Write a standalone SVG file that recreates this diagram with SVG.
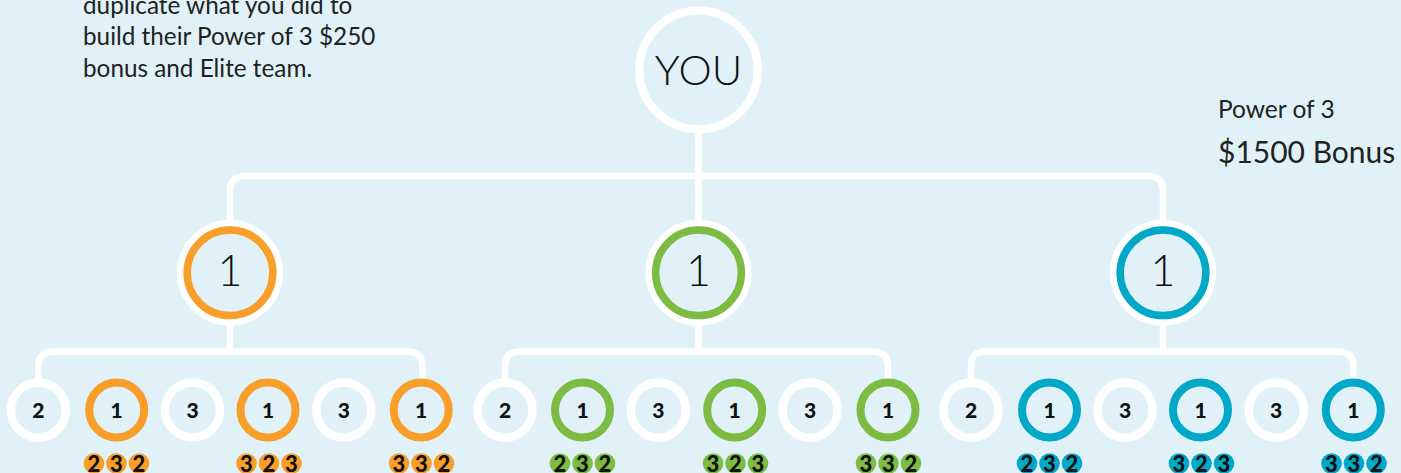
<svg xmlns="http://www.w3.org/2000/svg" width="1401" height="473" viewBox="0 0 1401 473">
<style>
.bg{fill:#e0f2f7}
.conn{fill:none;stroke:#ffffff;stroke-width:6.5}
.big{font-family:Lato,"Liberation Sans",sans-serif;font-weight:300;fill:#111;text-anchor:middle}
.note{font-family:Lato,"Liberation Sans",sans-serif;font-weight:400;fill:#222}
.num{font-family:Lato,"Liberation Sans",sans-serif;font-weight:900;font-size:21px;fill:#111;text-anchor:middle}
.bd{font-family:Lato,"Liberation Sans",sans-serif;font-weight:900;font-size:22px;fill:#111;text-anchor:middle}
.o{stroke:#f89e29}.g{stroke:#7dbb42}.b{stroke:#02a8c8}
.fo{fill:#f89e29}.fg{fill:#7dbb42}.fb{fill:#02a8c8}
.l2w{fill:#e0f2f7;stroke:#fff;stroke-width:8.5}
.l2c{fill:#e0f2f7;stroke-width:8}
</style>
<rect class="bg" x="0" y="0" width="1401" height="473"/>

<g id="note">
<text class="note" font-size="24.3" x="83" y="13.5">duplicate what you did to</text>
<text class="note" font-size="24.3" x="83" y="45">build their Power of 3 $250</text>
<text class="note" font-size="24.3" x="83" y="76.5">bonus and Elite team.</text>
</g>
<g id="bonus">
<text class="note" font-size="24.5" x="1218" y="118">Power of 3</text>
<text class="note" font-size="30" x="1218" y="163">$1500 Bonus</text>
</g>

<g id="connectors">
<path class="conn" d="M698.5,133 V220"/>
<path class="conn" d="M230,220 V191 Q230,176 245,176 H1148 Q1163,176 1163,191 V220"/>
<path class="conn" d="M230,325 V351.5"/>
<path class="conn" d="M698.5,325 V351.5"/>
<path class="conn" d="M1163,325 V351.5"/>
<path class="conn" d="M38.3,379 V366.5 Q38.3,351.5 53.3,351.5 H407.5 Q422.5,351.5 422.5,366.5 V379"/>
<path class="conn" d="M505,379 V366.5 Q505,351.5 520,351.5 H873 Q888,351.5 888,366.5 V379"/>
<path class="conn" d="M971,379 V366.5 Q971,351.5 986,351.5 H1338.3 Q1353.3,351.5 1353.3,366.5 V379"/>
</g>

<g id="you">
<circle cx="698.5" cy="70" r="59.3" fill="#e0f2f7" stroke="#fff" stroke-width="8.3"/>
<text class="big" font-size="42" x="698.5" y="85">YOU</text>
</g>

<g id="l1-orange">
<circle cx="230" cy="272.8" r="49.8" fill="none" stroke="#fff" stroke-width="6.5"/>
<circle cx="230" cy="272.8" r="42.8" fill="#e0f2f7" class="o" stroke-width="7.5"/>
<text class="big" font-size="43" x="230" y="286">1</text>
</g>
<g id="l1-green">
<circle cx="698.5" cy="272.8" r="49.8" fill="none" stroke="#fff" stroke-width="6.5"/>
<circle cx="698.5" cy="272.8" r="42.8" fill="#e0f2f7" class="g" stroke-width="7.5"/>
<text class="big" font-size="43" x="698.5" y="286">1</text>
</g>
<g id="l1-blue">
<circle cx="1163" cy="272.8" r="49.8" fill="none" stroke="#fff" stroke-width="6.5"/>
<circle cx="1163" cy="272.8" r="42.8" fill="#e0f2f7" class="b" stroke-width="7.5"/>
<text class="big" font-size="43" x="1163" y="286">1</text>
</g>

<!-- Group 1 (orange) -->
<g id="o-2"><circle class="l2w" cx="38.3" cy="410" r="27.5"/><text class="num" x="38.3" y="417.5">2</text></g>
<g id="o-1a"><circle class="l2c o" cx="116.7" cy="410" r="27.5"/><text class="num" x="116.7" y="417.5">1</text>
<circle class="fo" cx="94" cy="463.5" r="10.3"/><circle class="fo" cx="116.5" cy="463.5" r="10.3"/><circle class="fo" cx="139" cy="463.5" r="10.3"/>
<text class="bd" x="94" y="472">2</text><text class="bd" x="116.5" y="472">3</text><text class="bd" x="139" y="472">2</text></g>
<g id="o-3a"><circle class="l2w" cx="192.5" cy="410" r="27.5"/><text class="num" x="192.5" y="417.5">3</text></g>
<g id="o-1b"><circle class="l2c o" cx="268" cy="410" r="27.5"/><text class="num" x="268" y="417.5">1</text>
<circle class="fo" cx="246.5" cy="463.5" r="10.3"/><circle class="fo" cx="269" cy="463.5" r="10.3"/><circle class="fo" cx="291.5" cy="463.5" r="10.3"/>
<text class="bd" x="246.5" y="472">3</text><text class="bd" x="269" y="472">2</text><text class="bd" x="291.5" y="472">3</text></g>
<g id="o-3b"><circle class="l2w" cx="343.8" cy="410" r="27.5"/><text class="num" x="343.8" y="417.5">3</text></g>
<g id="o-1c"><circle class="l2c o" cx="421.2" cy="410" r="27.5"/><text class="num" x="421.2" y="417.5">1</text>
<circle class="fo" cx="399" cy="463.5" r="10.3"/><circle class="fo" cx="421.5" cy="463.5" r="10.3"/><circle class="fo" cx="444" cy="463.5" r="10.3"/>
<text class="bd" x="399" y="472">3</text><text class="bd" x="421.5" y="472">3</text><text class="bd" x="444" y="472">2</text></g>

<!-- Group 2 (green) -->
<g id="g-2"><circle class="l2w" cx="505" cy="410" r="27.5"/><text class="num" x="505" y="417.5">2</text></g>
<g id="g-1a"><circle class="l2c g" cx="582.5" cy="410" r="27.5"/><text class="num" x="582.5" y="417.5">1</text>
<circle class="fg" cx="560" cy="463.5" r="10.3"/><circle class="fg" cx="582.5" cy="463.5" r="10.3"/><circle class="fg" cx="605" cy="463.5" r="10.3"/>
<text class="bd" x="560" y="472">2</text><text class="bd" x="582.5" y="472">3</text><text class="bd" x="605" y="472">2</text></g>
<g id="g-3a"><circle class="l2w" cx="658.3" cy="410" r="27.5"/><text class="num" x="658.3" y="417.5">3</text></g>
<g id="g-1b"><circle class="l2c g" cx="734.7" cy="410" r="27.5"/><text class="num" x="734.7" y="417.5">1</text>
<circle class="fg" cx="713" cy="463.5" r="10.3"/><circle class="fg" cx="735.5" cy="463.5" r="10.3"/><circle class="fg" cx="758" cy="463.5" r="10.3"/>
<text class="bd" x="713" y="472">3</text><text class="bd" x="735.5" y="472">2</text><text class="bd" x="758" y="472">3</text></g>
<g id="g-3b"><circle class="l2w" cx="810" cy="410" r="27.5"/><text class="num" x="810" y="417.5">3</text></g>
<g id="g-1c"><circle class="l2c g" cx="888" cy="410" r="27.5"/><text class="num" x="888" y="417.5">1</text>
<circle class="fg" cx="866" cy="463.5" r="10.3"/><circle class="fg" cx="888.5" cy="463.5" r="10.3"/><circle class="fg" cx="911" cy="463.5" r="10.3"/>
<text class="bd" x="866" y="472">3</text><text class="bd" x="888.5" y="472">3</text><text class="bd" x="911" y="472">2</text></g>

<!-- Group 3 (blue) -->
<g id="b-2"><circle class="l2w" cx="971" cy="410" r="27.5"/><text class="num" x="971" y="417.5">2</text></g>
<g id="b-1a"><circle class="l2c b" cx="1049.5" cy="410" r="27.5"/><text class="num" x="1049.5" y="417.5">1</text>
<circle class="fb" cx="1027" cy="463.5" r="10.3"/><circle class="fb" cx="1049.5" cy="463.5" r="10.3"/><circle class="fb" cx="1072" cy="463.5" r="10.3"/>
<text class="bd" x="1027" y="472">2</text><text class="bd" x="1049.5" y="472">3</text><text class="bd" x="1072" y="472">2</text></g>
<g id="b-3a"><circle class="l2w" cx="1125" cy="410" r="27.5"/><text class="num" x="1125" y="417.5">3</text></g>
<g id="b-1b"><circle class="l2c b" cx="1200.5" cy="410" r="27.5"/><text class="num" x="1200.5" y="417.5">1</text>
<circle class="fb" cx="1179" cy="463.5" r="10.3"/><circle class="fb" cx="1201.5" cy="463.5" r="10.3"/><circle class="fb" cx="1224" cy="463.5" r="10.3"/>
<text class="bd" x="1179" y="472">3</text><text class="bd" x="1201.5" y="472">2</text><text class="bd" x="1224" y="472">3</text></g>
<g id="b-3b"><circle class="l2w" cx="1276.2" cy="410" r="27.5"/><text class="num" x="1276.2" y="417.5">3</text></g>
<g id="b-1c"><circle class="l2c b" cx="1353.3" cy="410" r="27.5"/><text class="num" x="1353.3" y="417.5">1</text>
<circle class="fb" cx="1331.5" cy="463.5" r="10.3"/><circle class="fb" cx="1354" cy="463.5" r="10.3"/><circle class="fb" cx="1376.5" cy="463.5" r="10.3"/>
<text class="bd" x="1331.5" y="472">3</text><text class="bd" x="1354" y="472">3</text><text class="bd" x="1376.5" y="472">2</text></g>
</svg>
